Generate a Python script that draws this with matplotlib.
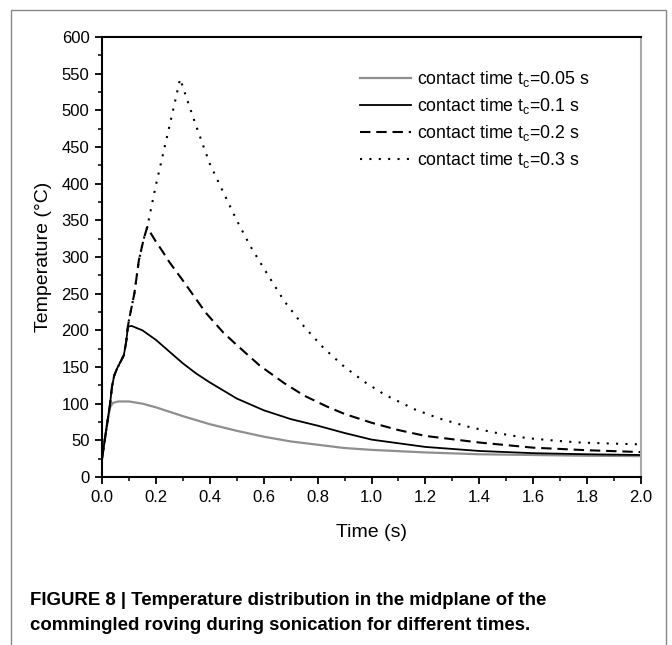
import matplotlib
matplotlib.use("Agg")
import matplotlib.pyplot as plt
from matplotlib.patches import Rectangle
from matplotlib.ticker import MultipleLocator

plt.rcParams['font.family'] = ['Liberation Sans', 'DejaVu Sans']

# ---- data ----
t_005 = [0, 0.01, 0.02, 0.03, 0.04, 0.06, 0.1, 0.15, 0.2, 0.3, 0.4, 0.5, 0.6, 0.7,
         0.8, 0.9, 1.0, 1.2, 1.4, 1.6, 1.8, 2.0]
T_005 = [25, 50, 75, 95, 101, 103, 103, 100, 95, 83, 72, 63, 55, 48.5,
         44, 39.5, 37, 33.5, 31, 30, 29, 28.5]

t_01 = [0, 0.01, 0.02, 0.03, 0.037, 0.045, 0.056, 0.07, 0.081, 0.09, 0.096, 0.11,
        0.15, 0.2, 0.25, 0.3, 0.35, 0.4, 0.5, 0.6, 0.7, 0.8, 0.9, 1.0, 1.2, 1.4,
        1.6, 1.8, 2.0]
T_01 = [25, 50, 75, 100, 123, 138, 148, 158, 166, 185, 205, 206,
        200, 187, 171, 155, 141, 129, 107, 91, 79, 70, 60, 51, 41, 35.5,
        32.5, 31, 30]

t_02 = [0, 0.01, 0.02, 0.03, 0.037, 0.045, 0.056, 0.07, 0.081, 0.09, 0.096, 0.1,
        0.12, 0.137, 0.155, 0.168, 0.18, 0.2, 0.224, 0.25, 0.3, 0.385, 0.45, 0.5,
        0.585, 0.676, 0.75, 0.835, 0.9, 1.0, 1.1, 1.2, 1.4, 1.6, 1.8, 2.0]
T_02 = [25, 50, 75, 100, 123, 138, 148, 158, 166, 185, 205, 214,
        250, 296, 325, 341, 333, 321, 308, 293, 268, 224, 197, 180,
        152, 128, 111, 96, 86, 74, 64, 56, 47, 40, 36.5, 34]

t_03 = [0, 0.01, 0.02, 0.03, 0.037, 0.045, 0.056, 0.07, 0.081, 0.09, 0.096, 0.1,
        0.12, 0.137, 0.155, 0.168, 0.2, 0.25, 0.29, 0.32, 0.35, 0.4, 0.453, 0.5,
        0.55, 0.613, 0.676, 0.75, 0.822, 0.9, 0.977, 1.05, 1.162, 1.25, 1.354,
        1.45, 1.577, 1.7, 1.775, 1.9, 2.0]
T_03 = [25, 50, 75, 100, 123, 138, 148, 158, 166, 185, 205, 214,
        250, 296, 325, 341, 398, 478, 543, 510, 478, 427, 386, 350,
        315, 277, 240, 205, 176, 150, 129, 112, 92, 80, 69,
        61, 53, 49, 47, 45.5, 44.5]

labels = [r"contact time t$_\mathregular{c}$=0.05 s",
          r"contact time t$_\mathregular{c}$=0.1 s",
          r"contact time t$_\mathregular{c}$=0.2 s",
          r"contact time t$_\mathregular{c}$=0.3 s"]

x_ticks = [0.0, 0.2, 0.4, 0.6, 0.8, 1.0, 1.2, 1.4, 1.6, 1.8, 2.0]
y_ticks = [0, 50, 100, 150, 200, 250, 300, 350, 400, 450, 500, 550, 600]

# ---- figure ----
fig = plt.figure(figsize=(6.72, 6.45), dpi=100)
ax = fig.add_axes([102/672, 1-477/645, (641-102)/672, (477-37)/645])

ax.plot(t_005, T_005, color='#8f8f8f', lw=1.6, label=labels[0])
ax.plot(t_01, T_01, color='black', lw=1.3, label=labels[1])
ax.plot(t_02, T_02, color='black', lw=1.5, linestyle=(0, (5, 2.8)), label=labels[2])
ax.plot(t_03, T_03, color='black', lw=1.5, linestyle=(0, (1, 3.5)), label=labels[3])

ax.set_xlim(0, 2.0)
ax.set_ylim(0, 600)
ax.set_xticks(x_ticks)
ax.set_xticklabels([f"{v:.1f}" for v in x_ticks])
ax.set_yticks(y_ticks)
ax.xaxis.set_minor_locator(MultipleLocator(0.1))
ax.yaxis.set_minor_locator(MultipleLocator(25))
ax.tick_params(which='major', direction='out', length=5, width=1.3, labelsize=12,
               top=False, right=False, pad=4)
ax.tick_params(which='minor', direction='out', length=3, width=1.1, top=False, right=False)

for s in ['left', 'bottom', 'top']:
    ax.spines[s].set_color('black')
    ax.spines[s].set_linewidth(1.5)
ax.spines['right'].set_color('#aaaaaa')
ax.spines['right'].set_linewidth(1.5)

ax.set_xlabel("Time (s)", fontsize=14, labelpad=14)
ax.set_ylabel("Temperature (°C)", fontsize=14, labelpad=7)

leg = ax.legend(loc='upper left', bbox_to_anchor=((356-102)/539, 0.935), frameon=False,
                fontsize=12.8, handlelength=2.9, handletextpad=0.35,
                labelspacing=0.40, borderaxespad=0.0, borderpad=0.2)

# outer frame
fig.patches.append(Rectangle((11/672, -0.05), (666-11)/672, 1.05 - 10/645,
                             transform=fig.transFigure, fill=False,
                             edgecolor='#888888', lw=1.0))

cap_font = ['Liberation Sans Narrow', 'Liberation Sans', 'DejaVu Sans']
fig.text(30/672, 1-605/645, "FIGURE 8 | Temperature distribution in the midplane of the",
         fontsize=13.4, fontweight='bold', family=cap_font, ha='left', va='baseline')
fig.text(30/672, 1-630/645, "commingled roving during sonication for different times.",
         fontsize=13.4, fontweight='bold', family=cap_font, ha='left', va='baseline')

fig.savefig("out.png", dpi=100)
